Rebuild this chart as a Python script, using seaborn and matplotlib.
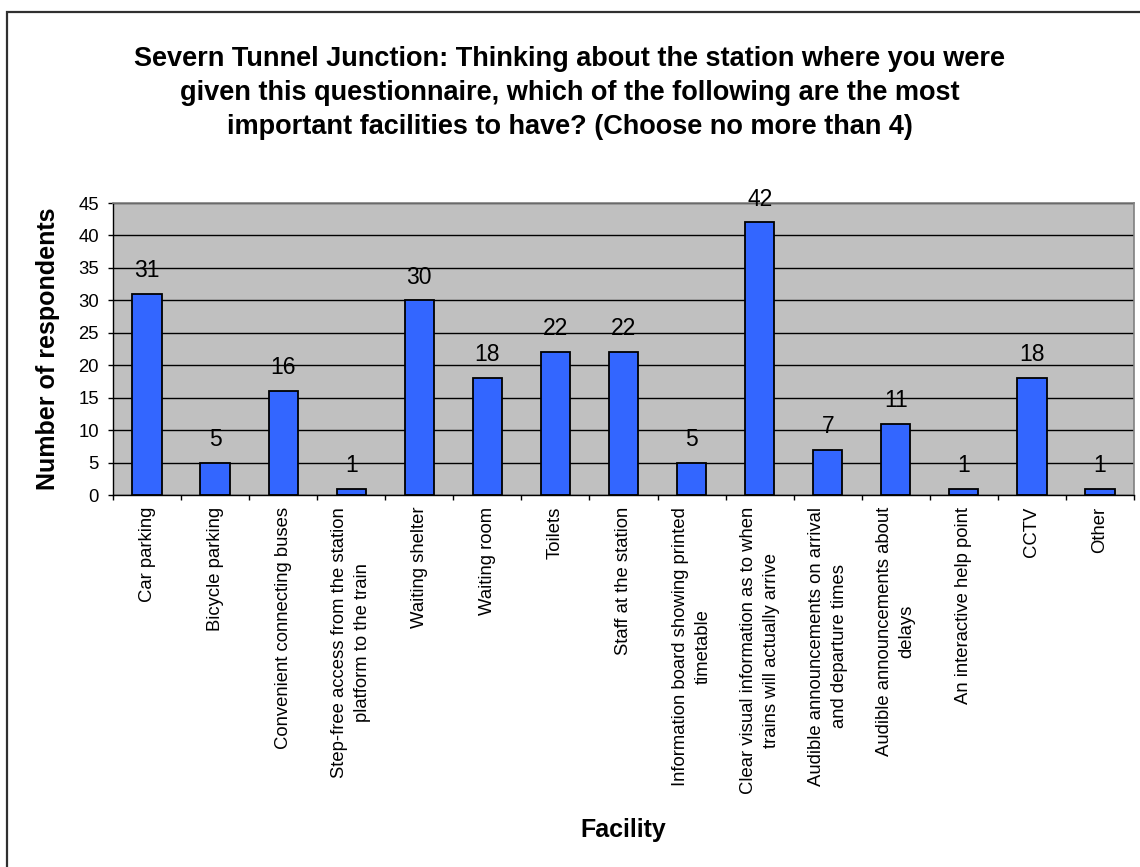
import matplotlib
matplotlib.use("Agg")
import matplotlib.pyplot as plt
import matplotlib.patches as mpatches
from matplotlib.ticker import FixedLocator
import seaborn as sns
import pandas as pd

facilities = [
    "Car parking",
    "Bicycle parking",
    "Convenient connecting buses",
    "Step-free access from the station\nplatform to the train",
    "Waiting shelter",
    "Waiting room",
    "Toilets",
    "Staff at the station",
    "Information board showing printed\ntimetable",
    "Clear visual information as to when\ntrains will actually arrive",
    "Audible announcements on arrival\nand departure times",
    "Audible announcements about\ndelays",
    "An interactive help point",
    "CCTV",
    "Other",
]
respondents = [31, 5, 16, 1, 30, 18, 22, 22, 5, 42, 7, 11, 1, 18, 1]
y_ticks = [0, 5, 10, 15, 20, 25, 30, 35, 40, 45]

title = ("Severn Tunnel Junction: Thinking about the station where you were\n"
         "given this questionnaire, which of the following are the most\n"
         "important facilities to have? (Choose no more than 4)")

plt.rcParams["font.family"] = ["Liberation Sans", "DejaVu Sans"]

df = pd.DataFrame({"Facility": facilities, "Respondents": respondents})

W, H = 1140, 867
fig = plt.figure(figsize=(W / 100, H / 100), dpi=100)
fig.patch.set_facecolor("white")

left, right, top, bottom = 113, 1134, 203, 495
ax = fig.add_axes([left / W, 1 - bottom / H, (right - left) / W, (bottom - top) / H])
ax.set_facecolor("#C0C0C0")

sns.barplot(data=df, x="Facility", y="Respondents", color="#3366FF",
            saturation=1, edgecolor="black", linewidth=1.3, width=0.43, ax=ax)

ax.set_ylim(0, 45)
ax.set_xlim(-0.5, len(facilities) - 0.5)
ax.yaxis.set_major_locator(FixedLocator(y_ticks))
ax.yaxis.grid(True, color="black", linewidth=1.0)
ax.set_axisbelow(True)

for side in ("top", "right"):
    ax.spines[side].set_color("#808080")
    ax.spines[side].set_linewidth(1.2)
for side in ("left", "bottom"):
    ax.spines[side].set_color("black")
    ax.spines[side].set_linewidth(1.0)

# category labels, with tick marks between the categories
ax.set_xticks(range(len(facilities)))
ax.set_xticklabels(facilities, rotation=90, ha="center", va="top",
                   multialignment="center", fontsize=13.3)
for lbl in ax.get_xticklabels():
    lbl.set_linespacing(1.45)
ax.tick_params(axis="x", which="major", length=0, pad=8.5)
ax.xaxis.set_minor_locator(FixedLocator([i - 0.5 for i in range(len(facilities) + 1)]))
ax.tick_params(axis="x", which="minor", length=3.6, width=1, color="black", direction="out")
ax.tick_params(axis="y", length=3.6, width=1, color="black", pad=6.5, labelsize=13.3)

ax.bar_label(ax.containers[0], padding=8.5, fontsize=16.5)

ax.set_xlabel("Facility", fontsize=18, fontweight="bold")
ax.set_ylabel("Number of respondents", fontsize=18, fontweight="bold")
ax.xaxis.set_label_coords((623 - left) / (right - left), (bottom - 830) / (bottom - top))
ax.xaxis.label.set_va("center")
ax.yaxis.set_label_coords((48 - left) / (right - left), 0.5)
ax.yaxis.label.set_va("center")

fig.text(0.5, 1 - 93 / H, title, ha="center", va="center", multialignment="center",
         fontsize=19.5, fontweight="bold", linespacing=1.38)

# chart-area border
fig.patches.append(mpatches.Rectangle((7 / W, -0.1), 1.2, 1.1 - 12 / H,
                                      transform=fig.transFigure, fill=False,
                                      edgecolor="#303030", linewidth=1.6))

fig.savefig("out.png", dpi=100)
